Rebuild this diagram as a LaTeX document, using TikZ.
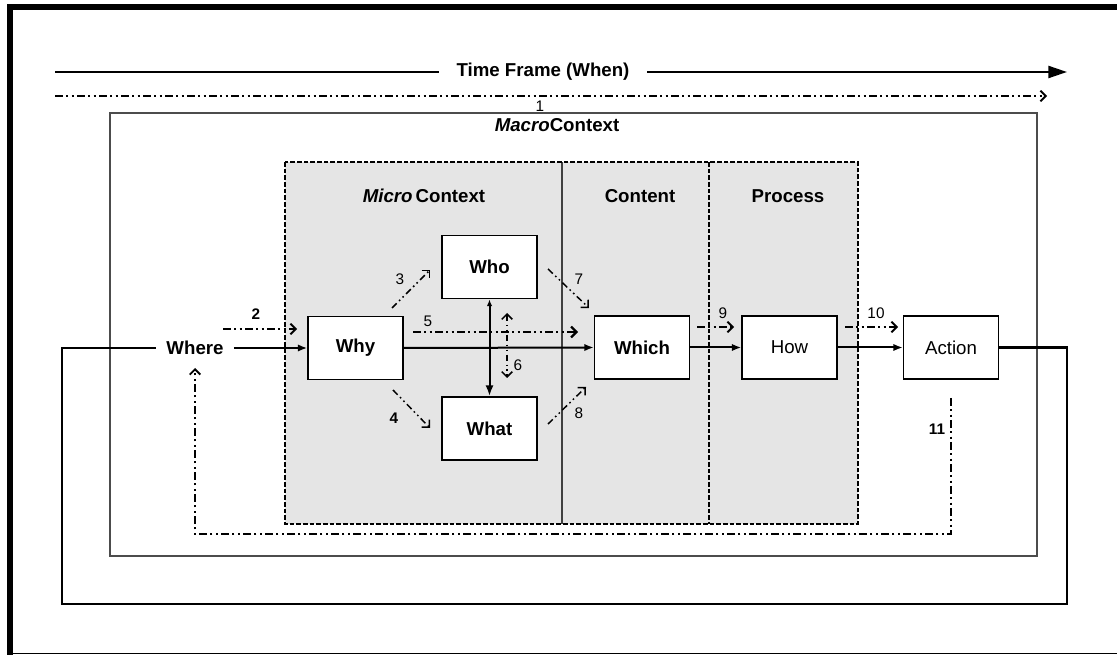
\documentclass[tikz,border=0pt]{standalone}
\usepackage{fontspec}
\setmainfont{Liberation Sans}
\usetikzlibrary{arrows.meta,calc}

\begin{document}
\begin{tikzpicture}[x=0.75pt,y=-0.75pt,
  font=\fontsize{14}{16}\selectfont\bfseries,
  box/.style={draw,fill=white,line width=1.1pt,minimum width=71.25pt,minimum height=47.5pt,inner sep=0pt},
  plain/.style={font=\fontsize{14}{16}\selectfont},
  flow/.style={line width=1.5pt,-{Latex[length=7pt,width=5.5pt]}},
  dd/.style={line width=1.4pt,dash pattern=on 6pt off 2.5pt on 1.5pt off 2.5pt on 1.5pt off 2.5pt},
  ddthin/.style={line width=1.1pt,dash pattern=on 5pt off 2.5pt on 1.2pt off 2.5pt on 1.2pt off 2.5pt},
  open/.style={-{Straight Barb[length=4pt,width=8pt]}},
  twoopen/.style={{Straight Barb[length=4pt,width=8pt]}-{Straight Barb[length=4pt,width=8pt]}},
  num/.style={font=\fontsize{11.5}{13}\selectfont,inner sep=1pt},
  numb/.style={font=\fontsize{11.5}{13}\selectfont\bfseries,inner sep=1pt},
  panelline/.style={line width=1.2pt,dash pattern=on 3.5pt off 1.5pt}]

\useasboundingbox (0,0) rectangle (1117,655);

% outer frame: heavy top and left edges, light bottom edge
\draw[line width=4pt] (10,655) -- (10,7) -- (1117,7);
\draw[line width=1.4pt] (10,653.5) -- (1117,653.5);

% time frame
\node[inner xsep=13pt] (tf) at (543,72) {Time Frame (When)};
\coordinate (tfL) at (55,72);
\coordinate (tfR) at (1067,72);
\draw[line width=1.7pt] (tfL) -- (tf.west);
\draw[line width=1.7pt,-{Triangle[length=14pt,width=9pt]}] (tf.east) -- (tfR);

% link 1 along the whole time frame
\coordinate (d1L) at (55,96);
\coordinate (d1R) at (1047,96);
\draw[dd,open] (d1L) -- (d1R);
\node[num] (n1) at (540,106) {1};

% macro context
\draw[black!70,line width=1.4pt] (110,113) rectangle (1037,556);
\node (macro) at (557,125) {\textit{Macro}Context};

% shaded micro context / content / process panel
\fill[gray!20] (285,162) rectangle (858,524);
\draw[black!75,line width=1.1pt] (562,162) -- (562,524);
\draw[panelline] (709,162) -- (709,524);
\draw[panelline] (285,162) rectangle (858,524);
\node (micro) at (424,196) {\textit{Micro}\,Context};
\node (content) at (640,196) {Content};
\node (process) at (788,196) {Process};

% elements
\node[box] (why) at (355.5,348) {Why};
\node[box] (who) at (489.5,267) {Who};
\node[box] (what) at (489.5,428.5) {What};
\node[box] (which) at (642,347.5) {Which};
\node[box,plain] (how) at (789.5,347.5) {How};
\node[box,plain] (action) at (951,347.5) {Action};
\node[inner xsep=7.5pt] (where) at (195,348) {Where};

% main flow
\draw[flow] (where.east) -- (why.west);
\draw[flow] (why.east) -- (which.west);
\draw[flow] (which.east) -- (how.west);
\draw[flow] (how.east) -- (action.west);
\draw[line width=1.5pt,{Latex[length=5pt,width=4pt]}-{Latex[length=8pt,width=6pt]}] (who.south) -- (what.north);

% feedback loop
\coordinate (loopR) at (1067,604);
\coordinate (loopL) at (62,604);
\draw[line width=1.8pt] (action.east) -| (loopR) -- (loopL) |- (where.west);

% numbered links
\coordinate (a2s) at (223,329);
\coordinate (a2e) at (297,329);
\draw[dd,open] (a2s) -- (a2e);
\node[numb] (n2) at (256,314) {2};

\coordinate (a3s) at (392,308);
\coordinate (a3e) at (430,270);
\draw[ddthin,open] (a3s) -- (a3e);
\node[num] (n3) at (400,279) {3};

\coordinate (a4s) at (393,390);
\coordinate (a4e) at (430,428);
\draw[ddthin,open] (a4s) -- (a4e);
\node[numb] (n4) at (394,418) {4};

\coordinate (a5s) at (413,332);
\coordinate (a5e) at (578,332);
\draw[dd,line width=1.7pt,open] (a5s) -- (a5e);
\node[num] (n5) at (428,321) {5};

\coordinate (a6s) at (507,313);
\coordinate (a6e) at (507,378);
\draw[ddthin,twoopen] (a6s) -- (a6e);
\node[num] (n6) at (518,365) {6};

\coordinate (a7s) at (548,269);
\coordinate (a7e) at (589,308);
\draw[ddthin,open] (a7s) -- (a7e);
\node[num] (n7) at (579,279) {7};

\coordinate (a8s) at (548,424);
\coordinate (a8e) at (586,387);
\draw[ddthin,open] (a8s) -- (a8e);
\node[num] (n8) at (579,413) {8};

\coordinate (a9s) at (697,327);
\coordinate (a9e) at (734,327);
\draw[dd,open] (a9s) -- (a9e);
\node[num] (n9) at (723,313) {9};

\coordinate (a10s) at (845,327);
\coordinate (a10e) at (898,327);
\draw[dd,open] (a10s) -- (a10e);
\node[num] (n10) at (876,313) {10};

\coordinate (a11s) at (951,398);
\coordinate (a11e) at (195,368);
\draw[dd,open] (a11s) -- (951,534) -- (195,534) -- (a11e);
\node[numb] (n11) at (937,429) {11};

\end{tikzpicture}
\end{document}
